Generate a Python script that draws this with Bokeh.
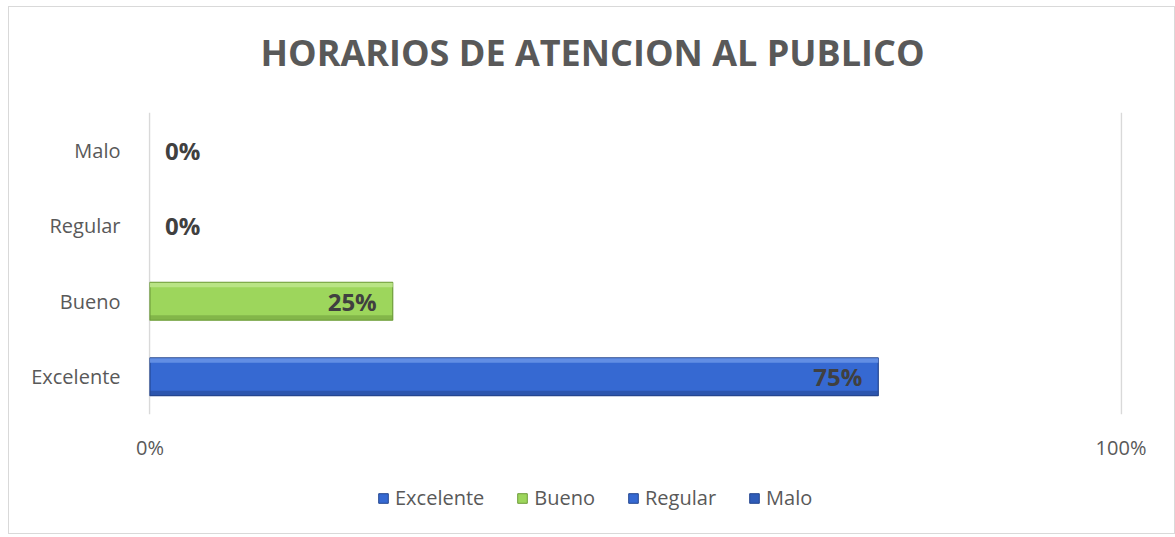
from bokeh.plotting import figure
from bokeh.models import Legend, LegendItem, FixedTicker, Range1d, ColumnDataSource
from bokeh.layouts import column
from bokeh.transform import dodge
from bokeh.core.properties import value
from bokeh.embed import file_html
from bokeh.resources import INLINE

title_text = "HORARIOS DE ATENCION AL PUBLICO"
categories = ["Excelente", "Bueno", "Regular", "Malo"]
values = [0.75, 0.25, 0.0, 0.0]
labels = ["75%", "25%", "0%", "0%"]
colors = ["#3669d2", "#9dd65c", "#3669d2", "#2f5cb8"]
light_colors = ["#6792e6", "#bde68a", "#6792e6", "#5a82d0"]
edge_colors = ["#24468f", "#6e9c3a", "#24468f", "#24468f"]
tick_values = [0, 1]
tick_labels = {0: "0%", 1: "100%"}

FONT = "Open Sans"
GRAY = "#595959"
W = 1165

# ---- title strip ----
tf = figure(width=W, height=105, x_range=Range1d(0, 1), y_range=Range1d(0, 1),
            output_backend="svg", toolbar_location=None,
            x_axis_location=None, y_axis_location=None,
            min_border_left=0, min_border_right=0, min_border_top=0, min_border_bottom=0)
tf.grid.visible = False
tf.outline_line_color = None
tf.text(x=[0.5], y=[0.5], text=[title_text], text_align="center", text_baseline="middle",
        x_offset=-43, y_offset=-8, text_font=value(FONT), text_font_style="bold",
        text_font_size="36px", text_color=GRAY)

# ---- main chart ----
p = figure(width=W, height=354, y_range=categories, x_range=Range1d(-0.0015, 1.0015),
           output_backend="svg", toolbar_location=None,
           min_border_left=139, min_border_right=52, min_border_top=0, min_border_bottom=52)
p.outline_line_color = None

for c, v, col, lc, ec in zip(categories, values, colors, light_colors, edge_colors):
    if v <= 0:
        continue
    s = ColumnDataSource(data=dict(y=[c], v=[v]))
    p.hbar(y="y", right="v", left=0, height=0.5, source=s, fill_color=col,
           line_color=ec, line_width=1.2)
    p.hbar(y=dodge("y", 0.215, range=p.y_range), right="v", left=0, height=0.06, source=s,
           fill_color=lc, line_color=None, fill_alpha=0.9)
    p.hbar(y=dodge("y", -0.215, range=p.y_range), right="v", left=0, height=0.06, source=s,
           fill_color=ec, line_color=None, fill_alpha=0.55)

inside = ColumnDataSource(data=dict(y=[c for c, v in zip(categories, values) if v > 0],
                                    x=[v for v in values if v > 0],
                                    t=[l for l, v in zip(labels, values) if v > 0]))
outside = ColumnDataSource(data=dict(y=[c for c, v in zip(categories, values) if v == 0],
                                     x=[v for v in values if v == 0],
                                     t=[l for l, v in zip(labels, values) if v == 0]))
p.text(x="x", y="y", text="t", source=inside, text_align="right", text_baseline="middle",
       x_offset=-16, text_font=value(FONT), text_font_style="bold", text_font_size="24px",
       text_color="#404040")
p.text(x="x", y="y", text="t", source=outside, text_align="left", text_baseline="middle",
       x_offset=15, text_font=value(FONT), text_font_style="bold", text_font_size="24px",
       text_color="#404040")

p.xaxis.ticker = FixedTicker(ticks=tick_values)
p.xaxis.major_label_overrides = tick_labels
p.xaxis.axis_line_color = None
p.xaxis.major_tick_line_color = None
p.xaxis.minor_tick_line_color = None
p.xaxis.major_label_text_font = FONT
p.xaxis.major_label_text_font_size = "20px"
p.xaxis.major_label_text_color = GRAY
p.xaxis.major_label_standoff = 13

p.yaxis.axis_line_color = None
p.yaxis.major_tick_line_color = None
p.yaxis.major_label_text_font = FONT
p.yaxis.major_label_text_font_size = "20px"
p.yaxis.major_label_text_color = GRAY
p.yaxis.major_label_standoff = 22

p.xgrid.ticker = FixedTicker(ticks=tick_values)
p.xgrid.grid_line_color = "#d9d9d9"
p.xgrid.grid_line_width = 1.5
p.ygrid.grid_line_color = None

# ---- legend strip ----
lg = figure(width=W, height=67, x_range=Range1d(0, 1), y_range=Range1d(0, 1),
            output_backend="svg", toolbar_location=None,
            x_axis_location=None, y_axis_location=None,
            min_border_left=0, min_border_right=0, min_border_top=0, min_border_bottom=0)
lg.grid.visible = False
lg.outline_line_color = None
items = []
for c, col, ec in zip(categories, colors, edge_colors):
    r = lg.quad(left=[-5], right=[-4], bottom=[-5], top=[-4], fill_color=col, line_color=ec)
    items.append(LegendItem(label=c, renderers=[r]))
legend = Legend(items=items, orientation="horizontal", location=(229, 22),
                label_text_font=FONT, label_text_font_size="20px", label_text_color=GRAY,
                glyph_width=12, glyph_height=12, spacing=32, label_standoff=6,
                border_line_color=None, background_fill_alpha=0)
lg.add_layout(legend, "center")

layout = column(tf, p, lg, spacing=0,
                styles={"border": "1px solid #d9d9d9", "margin-left": "8px", "margin-top": "6px"})
open("out.html", "w").write(file_html(layout, INLINE))
